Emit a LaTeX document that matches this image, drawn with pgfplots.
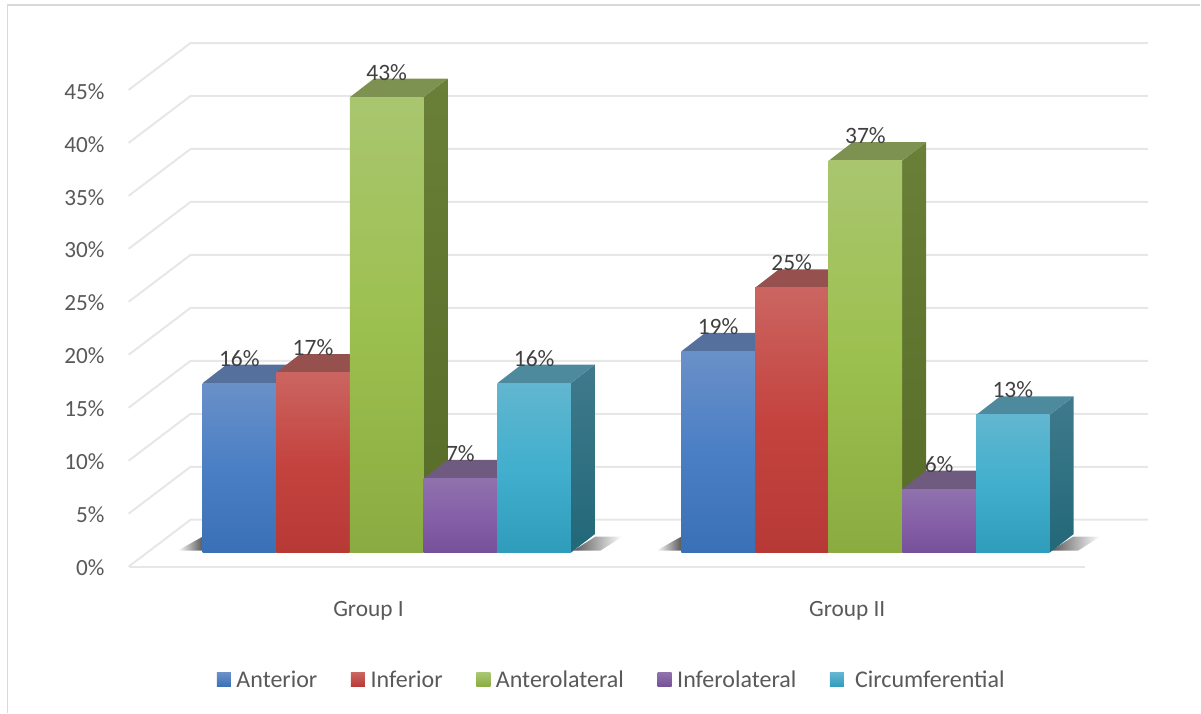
\documentclass[border=0pt]{standalone}
\usepackage{pgfplots}
\pgfplotsset{compat=1.18}
\usepackage{fontspec}
\setmainfont{Carlito}

% Face colours of the 3D columns
\definecolor{blueTop}{HTML}{6A90C8}\definecolor{blueMid}{HTML}{4A7FC4}\definecolor{blueBot}{HTML}{3A70B5}
\definecolor{blueCap}{HTML}{55709C}\definecolor{blueSideT}{HTML}{4F6C96}\definecolor{blueSideB}{HTML}{2F5A8C}
\definecolor{redTop}{HTML}{CB6561}\definecolor{redMid}{HTML}{C4433F}\definecolor{redBot}{HTML}{B73936}
\definecolor{redCap}{HTML}{96504E}\definecolor{redSideT}{HTML}{8E4442}\definecolor{redSideB}{HTML}{7E2C2A}
\definecolor{greenTop}{HTML}{A9C66F}\definecolor{greenMid}{HTML}{9CC04F}\definecolor{greenBot}{HTML}{8AAB41}
\definecolor{greenCap}{HTML}{7D9150}\definecolor{greenSideT}{HTML}{6A8038}\definecolor{greenSideB}{HTML}{566B26}
\definecolor{purpleTop}{HTML}{8F72AD}\definecolor{purpleMid}{HTML}{8660A8}\definecolor{purpleBot}{HTML}{765098}
\definecolor{purpleCap}{HTML}{6F5A80}\definecolor{purpleSideT}{HTML}{64507A}\definecolor{purpleSideB}{HTML}{553E70}
\definecolor{tealTop}{HTML}{62B6D0}\definecolor{tealMid}{HTML}{41AFCD}\definecolor{tealBot}{HTML}{309CBC}
\definecolor{tealCap}{HTML}{4E8A9E}\definecolor{tealSideT}{HTML}{3F7A8C}\definecolor{tealSideB}{HTML}{226878}
\definecolor{gridcol}{HTML}{E7E7E7}
\definecolor{framecol}{HTML}{D9D9D9}
\definecolor{ticktext}{HTML}{595959}
\definecolor{valuetext}{HTML}{404040}

% One column: left edge, value, colour family
\newcommand\threedbar[3]{%
  \addplot[forget plot, draw=none, top color=#3SideT, bottom color=#3SideB]
    coordinates {({#1+73.5},0) ({#1+97.5},1.75) ({#1+97.5},{#2+1.75}) ({#1+73.5},#2)} -- cycle;
  \addplot[forget plot, draw=none, fill=#3Cap]
    coordinates {(#1,#2) ({#1+73.5},#2) ({#1+97.5},{#2+1.75}) ({#1+24},{#2+1.75})} -- cycle;
  \addplot[forget plot, ybar, bar width=73.5, bar shift=0pt, draw=none,
           top color=#3Top, bottom color=#3Bot, middle color=#3Mid]
    coordinates {({#1+36.75},#2)};
  \node[text=valuetext, font=\fontsize{17.6}{19}\selectfont, anchor=center]
    at (axis cs:{#1+36.75},{#2+2.35}) {#2\%};
}
% One back-wall gridline with its slanted side-wall part
\newcommand\wallline[1]{%
  \addplot[forget plot, gridcol, line width=1.5pt]
    coordinates {(128,{#1-1.32}) (190,{#1+3.11}) (1148,{#1+3.11})};
}

\begin{document}
\begin{tikzpicture}
\begin{axis}[
  x=0.75pt, y=7.95pt,
  xmin=-0.7, xmax=1200.3, ymin=-15.094, ymax=52.170,
  axis line style={draw=none},
  major tick length=0pt,
  tick style={draw=none},
  clip=false,
  ytick={0,5,10,15,20,25,30,35,40,45},
  yticklabel={\pgfmathprintnumber{\tick}\%},
  /pgf/number format/assume math mode=true,
  y tick label style={anchor=east, xshift=82pt, yshift=-11.5pt,
    text=ticktext, font=\fontsize{17.4}{19}\selectfont},
  xtick={368,847},
  xticklabels={Group I, Group II},
  x tick label style={anchor=center, yshift=76.5pt,
    text=ticktext, font=\fontsize{17.5}{19}\selectfont},
  legend columns=5,
  legend cell align=left,
  legend style={at={(axis cs:212,-12.0)}, anchor=west, draw=none, fill=none,
    text=ticktext, font=\fontsize{18}{20}\selectfont,
    /tikz/every even column/.append style={column sep=23.25pt}},
  legend image code/.code={\path[#1, draw=none] (0pt,-5.25pt) rectangle (10.5pt,5.25pt);\path[draw=none, fill=none] (0pt,0pt) -- (12.75pt,0pt);},
]
% Legend swatches
\addlegendimage{top color=blueTop, bottom color=blueBot}\addlegendentry{Anterior\hspace{-4.5pt}}
\addlegendimage{top color=redTop, bottom color=redBot}\addlegendentry{Inferior\hspace{9.5pt}}
\addlegendimage{top color=greenTop, bottom color=greenBot}\addlegendentry{Anterolateral\hspace{-1.5pt}}
\addlegendimage{top color=purpleTop, bottom color=purpleBot}\addlegendentry{Inferolateral\hspace{7.5pt}}
\addlegendimage{top color=tealTop, bottom color=tealBot}\addlegendentry{\ Circumferential}

% Outer frame
\addplot[forget plot, framecol, line width=1.1pt] coordinates {(7,-15.094) (7,51.7) (1200.3,51.7)};

% Walls and floor
\wallline{0}\wallline{5}\wallline{10}\wallline{15}\wallline{20}
\wallline{25}\wallline{30}\wallline{35}\wallline{40}\wallline{45}
\addplot[forget plot, gridcol, line width=1.5pt] coordinates {(128,-1.32) (1085,-1.32)};

% Contact shadows on the floor
\addplot[forget plot, draw=none, left color=white, right color=black!65]
  coordinates {(177,0.19) (202,1.51) (202,0.19)} -- cycle;
\addplot[forget plot, draw=none, left color=black!65, right color=white]
  coordinates {(573,0.19) (595,1.51) (622,1.51) (600,0.19)} -- cycle;
\addplot[forget plot, draw=none, left color=white, right color=black!65]
  coordinates {(656,0.19) (681,1.51) (681,0.19)} -- cycle;
\addplot[forget plot, draw=none, left color=black!65, right color=white]
  coordinates {(1051,0.19) (1073,1.51) (1100,1.51) (1078,0.19)} -- cycle;

% Group I
\threedbar{202}{16}{blue}
\threedbar{275.75}{17}{red}
\threedbar{349.5}{43}{green}
\threedbar{423.25}{7}{purple}
\threedbar{497}{16}{teal}
% Group II
\threedbar{681}{19}{blue}
\threedbar{754.75}{25}{red}
\threedbar{828.5}{37}{green}
\threedbar{902.25}{6}{purple}
\threedbar{976}{13}{teal}
\end{axis}
\end{tikzpicture}
\end{document}
